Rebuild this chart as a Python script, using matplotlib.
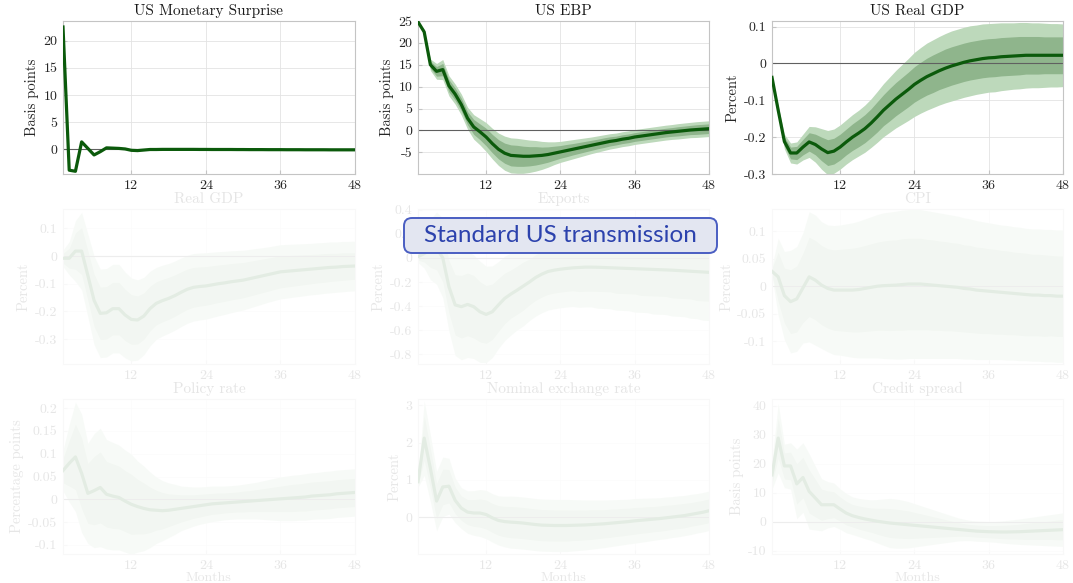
import numpy as np
import matplotlib
matplotlib.use("Agg")
import matplotlib.pyplot as plt
from matplotlib.patches import Rectangle, FancyBboxPatch

plt.rcParams['font.family'] = ['cmr10', 'DejaVu Serif']
plt.rcParams['axes.unicode_minus'] = False
plt.rcParams['mathtext.fontset'] = 'cm'

months = np.arange(1, 49)

# ---- top row: US shock ----
us_mp_med = [22.5, -3.8, -4.0, 1.4, 0.2, -1.0, -0.4, 0.3,
             0.25, 0.2, 0.1, -0.15, -0.2, -0.1, 0.0, 0.0,
             0.02, 0.02, 0.02, 0.02, 0.02, 0.02, 0.01, 0.01,
             0.0, 0.0, 0.0, 0.0, -0.01, -0.01, -0.02, -0.02,
             -0.02, -0.03, -0.03, -0.03, -0.04, -0.04, -0.04, -0.05,
             -0.05, -0.05, -0.05, -0.06, -0.06, -0.06, -0.06, -0.06]

us_ebp_med = [24.8, 22.5, 15.0, 13.5, 13.9, 10.2, 8.3, 5.9,
              2.8, 0.8, -0.3, -1.5, -3.0, -4.3, -5.2, -5.7,
              -5.8, -5.9, -5.9, -5.8, -5.7, -5.5, -5.2, -4.9,
              -4.6, -4.3, -4.0, -3.7, -3.4, -3.1, -2.8, -2.5,
              -2.3, -2.0, -1.8, -1.5, -1.3, -1.1, -0.9, -0.7,
              -0.5, -0.35, -0.2, -0.05, 0.1, 0.2, 0.3, 0.4]
us_ebp_w90 = [0.0, 0.6, 1.3, 1.8, 2.3, 2.3, 2.3, 2.4,
              2.5, 2.8, 3.0, 3.3, 3.5, 3.7, 3.9, 4.0,
              4.0, 3.9, 3.7, 3.5, 3.2, 2.9, 2.6, 2.4,
              2.3, 2.2, 2.1, 2.0, 1.9, 1.85, 1.8, 1.75,
              1.7, 1.7, 1.7, 1.7, 1.7, 1.7, 1.7, 1.7,
              1.7, 1.7, 1.75, 1.75, 1.75, 1.8, 1.8, 1.8]
us_ebp_w68 = [0.0, 0.35, 0.8, 1.1, 1.4, 1.4, 1.4, 1.45,
              1.5, 1.7, 1.8, 2.0, 2.1, 2.2, 2.3, 2.4,
              2.4, 2.3, 2.2, 2.1, 1.9, 1.75, 1.6, 1.45,
              1.4, 1.3, 1.25, 1.2, 1.15, 1.1, 1.1, 1.05,
              1.0, 1.0, 1.0, 1.0, 1.0, 1.0, 1.0, 1.0,
              1.0, 1.0, 1.05, 1.05, 1.05, 1.1, 1.1, 1.1]

us_gdp_med = [-0.038, -0.127, -0.212, -0.243, -0.243, -0.227, -0.213, -0.220,
              -0.232, -0.242, -0.238, -0.227, -0.213, -0.200, -0.189, -0.177,
              -0.162, -0.145, -0.127, -0.112, -0.097, -0.084, -0.071, -0.057,
              -0.046, -0.036, -0.028, -0.020, -0.013, -0.007, -0.002, 0.003,
              0.007, 0.010, 0.013, 0.015, 0.016, 0.018, 0.019, 0.020,
              0.021, 0.022, 0.022, 0.022, 0.022, 0.022, 0.022, 0.022]
us_gdp_w90 = [0.0, 0.012, 0.02, 0.027, 0.03, 0.035, 0.042, 0.048,
              0.055, 0.06, 0.06, 0.06, 0.06, 0.061, 0.062, 0.064,
              0.066, 0.069, 0.072, 0.075, 0.078, 0.081, 0.084, 0.087,
              0.089, 0.091, 0.092, 0.093, 0.094, 0.095, 0.095, 0.095,
              0.095, 0.094, 0.094, 0.093, 0.093, 0.092, 0.091, 0.09,
              0.09, 0.089, 0.088, 0.088, 0.087, 0.086, 0.086, 0.085]
us_gdp_w68 = [0.0, 0.007, 0.012, 0.016, 0.018, 0.021, 0.025, 0.028,
              0.032, 0.035, 0.035, 0.035, 0.035, 0.036, 0.037, 0.038,
              0.039, 0.041, 0.042, 0.044, 0.045, 0.046, 0.047, 0.048,
              0.049, 0.05, 0.051, 0.051, 0.052, 0.052, 0.052, 0.052,
              0.052, 0.052, 0.052, 0.052, 0.052, 0.052, 0.052, 0.052,
              0.052, 0.051, 0.051, 0.051, 0.05, 0.05, 0.05, 0.05]

# ---- middle row: domestic responses ----
gdp_med = [-0.008, -0.008, 0.018, 0.018, -0.07, -0.16, -0.207, -0.205,
           -0.19, -0.19, -0.213, -0.229, -0.231, -0.217, -0.19, -0.171,
           -0.161, -0.153, -0.143, -0.131, -0.12, -0.113, -0.11, -0.108,
           -0.104, -0.1, -0.097, -0.093, -0.09, -0.087, -0.082, -0.077,
           -0.072, -0.067, -0.062, -0.057, -0.055, -0.053, -0.051, -0.049,
           -0.047, -0.045, -0.043, -0.041, -0.04, -0.038, -0.037, -0.036]
gdp_w90 = [0.03, 0.06, 0.11, 0.14, 0.15, 0.16, 0.16, 0.16,
           0.16, 0.16, 0.155, 0.15, 0.145, 0.14, 0.135, 0.13,
           0.128, 0.126, 0.125, 0.124, 0.123, 0.122, 0.121, 0.12,
           0.118, 0.116, 0.114, 0.112, 0.11, 0.108, 0.106, 0.104,
           0.102, 0.1, 0.099, 0.098, 0.097, 0.096, 0.095, 0.094,
           0.093, 0.093, 0.092, 0.092, 0.091, 0.091, 0.09, 0.09]
gdp_w68 = [0.018, 0.036, 0.066, 0.085, 0.09, 0.095, 0.095, 0.095,
           0.095, 0.095, 0.093, 0.09, 0.087, 0.084, 0.081, 0.078,
           0.077, 0.076, 0.075, 0.074, 0.073, 0.072, 0.071, 0.07,
           0.069, 0.068, 0.067, 0.066, 0.065, 0.064, 0.063, 0.062,
           0.061, 0.06, 0.059, 0.058, 0.057, 0.056, 0.055, 0.054,
           0.053, 0.052, 0.052, 0.051, 0.05, 0.05, 0.049, 0.048]

exports_med = [0.01, 0.035, 0.07, 0.08, 0.0, -0.24, -0.39, -0.405,
               -0.386, -0.405, -0.447, -0.469, -0.447, -0.39, -0.336, -0.3,
               -0.268, -0.234, -0.2, -0.163, -0.135, -0.113, -0.102, -0.094,
               -0.088, -0.083, -0.08, -0.077, -0.077, -0.078, -0.08, -0.082,
               -0.084, -0.086, -0.088, -0.09, -0.092, -0.094, -0.096, -0.098,
               -0.1, -0.102, -0.105, -0.108, -0.111, -0.114, -0.117, -0.12]
exports_w90 = [0.05, 0.12, 0.25, 0.3, 0.33, 0.37, 0.42, 0.44,
               0.44, 0.43, 0.42, 0.4, 0.38, 0.36, 0.35, 0.34,
               0.33, 0.33, 0.32, 0.32, 0.32, 0.32, 0.32, 0.32,
               0.32, 0.32, 0.33, 0.33, 0.33, 0.34, 0.34, 0.34,
               0.35, 0.35, 0.35, 0.36, 0.36, 0.36, 0.37, 0.37,
               0.37, 0.38, 0.38, 0.38, 0.39, 0.39, 0.4, 0.4]
exports_w68 = [0.03, 0.07, 0.15, 0.18, 0.2, 0.22, 0.25, 0.26,
               0.26, 0.26, 0.25, 0.24, 0.23, 0.22, 0.21, 0.2,
               0.2, 0.2, 0.19, 0.19, 0.19, 0.19, 0.19, 0.19,
               0.19, 0.19, 0.2, 0.2, 0.2, 0.2, 0.2, 0.2,
               0.21, 0.21, 0.21, 0.21, 0.22, 0.22, 0.22, 0.22,
               0.22, 0.23, 0.23, 0.23, 0.23, 0.24, 0.24, 0.24]

cpi_med = [0.027, 0.017, -0.017, -0.028, -0.023, -0.003, 0.017, 0.011,
           0.002, -0.004, -0.007, -0.007, -0.007, -0.007, -0.006, -0.004,
           -0.002, 0.0, 0.001, 0.0015, 0.002, 0.003, 0.004, 0.004,
           0.004, 0.003, 0.002, 0.001, 0.0, -0.001, -0.002, -0.004,
           -0.005, -0.007, -0.008, -0.009, -0.01, -0.011, -0.012, -0.013,
           -0.014, -0.015, -0.016, -0.016, -0.017, -0.017, -0.018, -0.018]
cpi_w90 = [0.01, 0.07, 0.08, 0.093, 0.095, 0.1, 0.118, 0.118,
           0.115, 0.115, 0.117, 0.118, 0.12, 0.122, 0.124, 0.126,
           0.128, 0.13, 0.132, 0.133, 0.134, 0.135, 0.135, 0.135,
           0.135, 0.134, 0.133, 0.132, 0.131, 0.13, 0.129, 0.128,
           0.127, 0.126, 0.125, 0.124, 0.123, 0.122, 0.122, 0.121,
           0.121, 0.12, 0.12, 0.12, 0.12, 0.12, 0.12, 0.12]
cpi_w68 = [0.006, 0.045, 0.05, 0.058, 0.06, 0.063, 0.072, 0.072,
           0.072, 0.072, 0.073, 0.074, 0.075, 0.076, 0.077, 0.078,
           0.079, 0.08, 0.081, 0.082, 0.082, 0.083, 0.083, 0.083,
           0.083, 0.082, 0.082, 0.081, 0.081, 0.08, 0.08, 0.079,
           0.079, 0.078, 0.078, 0.077, 0.077, 0.076, 0.076, 0.075,
           0.075, 0.075, 0.074, 0.074, 0.074, 0.073, 0.073, 0.073]

# ---- bottom row: financial responses ----
policy_med = [0.063, 0.079, 0.093, 0.057, 0.013, 0.019, 0.026, 0.011,
              0.007, 0.004, -0.004, -0.011, -0.016, -0.02, -0.023, -0.024,
              -0.025, -0.024, -0.022, -0.02, -0.018, -0.016, -0.014, -0.012,
              -0.01, -0.009, -0.008, -0.007, -0.006, -0.005, -0.004, -0.003,
              -0.002, -0.001, 0.0, 0.001, 0.002, 0.003, 0.004, 0.005,
              0.007, 0.008, 0.009, 0.01, 0.012, 0.013, 0.014, 0.015]
policy_w90 = [0.045, 0.085, 0.12, 0.13, 0.11, 0.125, 0.13, 0.12,
              0.118, 0.115, 0.112, 0.11, 0.1, 0.093, 0.083, 0.073,
              0.066, 0.06, 0.055, 0.049, 0.046, 0.043, 0.041, 0.04,
              0.039, 0.038, 0.037, 0.037, 0.037, 0.038, 0.039, 0.04,
              0.042, 0.044, 0.046, 0.048, 0.049, 0.05, 0.05, 0.051,
              0.051, 0.051, 0.052, 0.052, 0.052, 0.052, 0.052, 0.052]
policy_w68 = [0.027, 0.05, 0.072, 0.078, 0.066, 0.075, 0.078, 0.072,
              0.071, 0.069, 0.067, 0.066, 0.06, 0.056, 0.05, 0.044,
              0.04, 0.036, 0.033, 0.03, 0.028, 0.026, 0.025, 0.024,
              0.023, 0.023, 0.022, 0.022, 0.022, 0.023, 0.023, 0.024,
              0.025, 0.026, 0.027, 0.028, 0.029, 0.03, 0.03, 0.031,
              0.031, 0.031, 0.031, 0.031, 0.031, 0.031, 0.031, 0.031]

ner_med = [0.95, 2.12, 1.31, 0.43, 0.81, 0.83, 0.45, 0.24,
           0.135, 0.11, 0.11, 0.07, -0.02, -0.09, -0.12, -0.135,
           -0.145, -0.16, -0.18, -0.2, -0.215, -0.22, -0.225, -0.225,
           -0.225, -0.22, -0.215, -0.21, -0.2, -0.19, -0.18, -0.165,
           -0.15, -0.135, -0.12, -0.1, -0.085, -0.07, -0.055, -0.04,
           -0.02, 0.0, 0.02, 0.04, 0.07, 0.1, 0.13, 0.17]
ner_w90 = [0.15, 1.0, 0.9, 0.8, 0.8, 0.75, 0.6, 0.55,
           0.57, 0.6, 0.63, 0.65, 0.65, 0.66, 0.68, 0.7,
           0.7, 0.7, 0.7, 0.7, 0.7, 0.7, 0.7, 0.7,
           0.7, 0.69, 0.68, 0.67, 0.66, 0.65, 0.64, 0.63,
           0.62, 0.61, 0.6, 0.6, 0.59, 0.58, 0.57, 0.56,
           0.56, 0.55, 0.55, 0.54, 0.54, 0.53, 0.53, 0.53]
ner_w68 = [0.09, 0.6, 0.54, 0.48, 0.48, 0.45, 0.36, 0.33,
           0.34, 0.36, 0.38, 0.39, 0.39, 0.4, 0.41, 0.42,
           0.42, 0.42, 0.42, 0.42, 0.42, 0.42, 0.42, 0.42,
           0.42, 0.41, 0.41, 0.4, 0.4, 0.39, 0.38, 0.38,
           0.37, 0.37, 0.36, 0.36, 0.35, 0.35, 0.34, 0.34,
           0.34, 0.33, 0.33, 0.33, 0.32, 0.32, 0.32, 0.32]

spread_med = [16.1, 28.8, 19.2, 19.2, 13.0, 15.2, 10.4, 8.1,
              5.8, 5.8, 5.8, 4.3, 2.9, 2.0, 1.4, 0.9,
              0.5, 0.1, -0.2, -0.5, -0.7, -0.9, -1.1, -1.3,
              -1.5, -1.7, -1.9, -2.1, -2.3, -2.5, -2.7, -2.9,
              -3.1, -3.3, -3.4, -3.5, -3.55, -3.6, -3.6, -3.55,
              -3.5, -3.4, -3.3, -3.2, -3.1, -3.0, -2.9, -2.8]
spread_w90 = [5.0, 12.0, 7.5, 8.0, 12.0, 12.0, 13.0, 11.0,
              9.0, 8.0, 7.5, 7.0, 6.8, 6.5, 6.6, 6.8,
              7.0, 7.5, 8.0, 8.5, 8.5, 8.3, 8.0, 7.5,
              7.0, 6.5, 6.0, 5.5, 5.0, 4.5, 4.0, 3.7,
              3.5, 3.5, 3.5, 3.5, 3.6, 3.8, 4.0, 4.2,
              4.4, 4.6, 4.8, 5.0, 5.2, 5.4, 5.6, 5.8]
spread_w68 = [3.0, 7.0, 4.5, 4.8, 7.0, 7.0, 7.5, 6.5,
              5.4, 4.8, 4.5, 4.2, 4.1, 3.9, 4.0, 4.1,
              4.2, 4.5, 4.8, 5.0, 5.0, 4.9, 4.8, 4.5,
              4.2, 3.9, 3.6, 3.3, 3.0, 2.7, 2.4, 2.2,
              2.1, 2.1, 2.1, 2.1, 2.2, 2.3, 2.4, 2.5,
              2.6, 2.8, 2.9, 3.0, 3.1, 3.2, 3.4, 3.5]

GREEN = '#0b5a0b'
BAND90 = '#bdd9bb'
BAND68 = '#8fb58c'

W, H = 1073, 583
fig = plt.figure(figsize=(W / 100, H / 100), dpi=100)

col_left = [63, 418, 772]
col_width = [292, 291, 291]
row_top = [21, 209, 399]
row_bot = [174, 364, 554]


def panel(r, c, title, ylabel, med, w90, w68, ylim, yticks, ylabels):
    l, w = col_left[c], col_width[c]
    t, b = row_top[r], row_bot[r]
    ax = fig.add_axes([l / W, 1 - b / H, w / W, (b - t) / H])
    med = np.array(med)
    if w90 is not None:
        w90 = np.array(w90)
        w68 = np.array(w68)
        ax.fill_between(months, med - w90, med + w90, color=BAND90, lw=0, zorder=1)
        ax.fill_between(months, med - w68, med + w68, color=BAND68, lw=0, zorder=2)
    ax.axhline(0, color='#606060', lw=0.8, zorder=2.5)
    ax.plot(months, med, color=GREEN, lw=2.3, zorder=3)
    ax.set_xlim(1, 48)
    ax.set_ylim(*ylim)
    ax.set_xticks([12, 24, 36, 48])
    ax.set_xticklabels(['12', '24', '36', '48'])
    ax.set_yticks(yticks)
    ax.set_yticklabels(ylabels)
    ax.grid(True, color='#e3e3e3', lw=0.6)
    ax.set_axisbelow(True)
    for s in ax.spines.values():
        s.set_color('#c4c4c4')
        s.set_linewidth(0.8)
    ax.tick_params(direction='in', length=3, color='#c4c4c4',
                   labelcolor='#262626', labelsize=10, pad=4)
    ax.set_title(title, fontsize=11, pad=4, color='#1a1a1a')
    ax.set_ylabel(ylabel, fontsize=10.5, color='#262626', labelpad=3)
    if r == 2:
        ax.set_xlabel('Months', fontsize=10, color='#262626', labelpad=0)
    return ax


panel(0, 0, 'US Monetary Surprise', 'Basis points', us_mp_med, None, None,
      (-4.5, 23.6), [0, 5, 10, 15, 20], ['0', '5', '10', '15', '20'])
panel(0, 1, 'US EBP', 'Basis points', us_ebp_med, us_ebp_w90, us_ebp_w68,
      (-9.95, 25), [-5, 0, 5, 10, 15, 20, 25], ['-5', '0', '5', '10', '15', '20', '25'])
panel(0, 2, 'US Real GDP', 'Percent', us_gdp_med, us_gdp_w90, us_gdp_w68,
      (-0.3, 0.115), [-0.3, -0.2, -0.1, 0, 0.1], ['-0.3', '-0.2', '-0.1', '0', '0.1'])

panel(1, 0, 'Real GDP', 'Percent', gdp_med, gdp_w90, gdp_w68,
      (-0.39, 0.17), [-0.3, -0.2, -0.1, 0, 0.1], ['-0.3', '-0.2', '-0.1', '0', '0.1'])
panel(1, 1, 'Exports', 'Percent', exports_med, exports_w90, exports_w68,
      (-0.88, 0.405), [-0.8, -0.6, -0.4, -0.2, 0, 0.2, 0.4],
      ['-0.8', '-0.6', '-0.4', '-0.2', '0', '0.2', '0.4'])
panel(1, 2, 'CPI', 'Percent', cpi_med, cpi_w90, cpi_w68,
      (-0.141, 0.14), [-0.1, -0.05, 0, 0.05, 0.1], ['-0.1', '-0.05', '0', '0.05', '0.1'])

panel(2, 0, 'Policy rate', 'Percentage points', policy_med, policy_w90, policy_w68,
      (-0.12, 0.22), [-0.1, -0.05, 0, 0.05, 0.1, 0.15, 0.2],
      ['-0.1', '-0.05', '0', '0.05', '0.1', '0.15', '0.2'])
panel(2, 1, 'Nominal exchange rate', 'Percent', ner_med, ner_w90, ner_w68,
      (-0.99, 3.17), [0, 1, 2, 3], ['0', '1', '2', '3'])
panel(2, 2, 'Credit spread', 'Basis points', spread_med, spread_w90, spread_w68,
      (-11.2, 42.3), [-10, 0, 10, 20, 30, 40], ['-10', '0', '10', '20', '30', '40'])

# fade the lower two rows
fade = Rectangle((0, 0), W / 100, (H - 191) / 100, transform=fig.dpi_scale_trans,
                 facecolor='white', alpha=0.89, edgecolor='none', zorder=5)
fig.add_artist(fade)

# callout
box = FancyBboxPatch((4.04, (H - 253) / 100), 3.13, 0.35,
                     boxstyle='round,pad=0,rounding_size=0.08',
                     transform=fig.dpi_scale_trans, facecolor='#e3e6f1',
                     edgecolor='#4a5ec2', lw=1.4, zorder=6)
fig.add_artist(box)
fig.text(5.605 / (W / 100), 1 - 236 / H, 'Standard US transmission',
         family=['Lato', 'DejaVu Sans'], fontsize=17.5, color='#2c42ad',
         ha='center', va='center', zorder=7)

fig.savefig('out.png', dpi=100)
